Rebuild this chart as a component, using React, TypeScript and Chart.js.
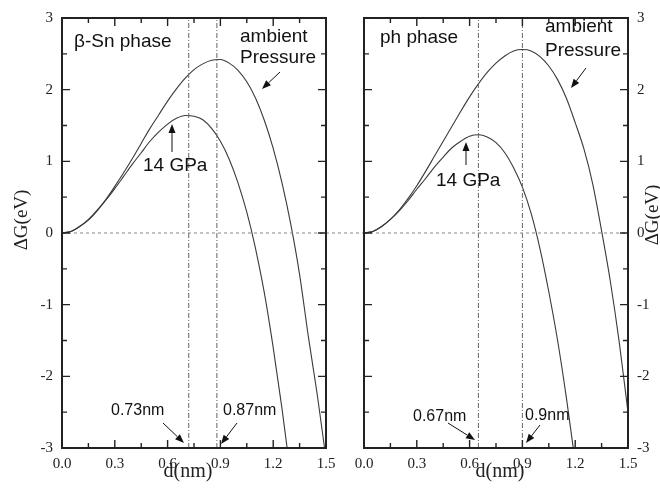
import React, { useEffect, useRef } from "react";
import { Chart, registerables } from "chart.js";
Chart.register(...registerables);

// ---------- data ----------
const dValues = [0, 0.05, 0.1, 0.15, 0.2, 0.25, 0.3, 0.35, 0.4, 0.45, 0.5, 0.55, 0.6, 0.65, 0.7, 0.75, 0.8, 0.85, 0.9, 0.95, 1.0, 1.05, 1.1, 1.15, 1.2, 1.25, 1.3, 1.35, 1.4, 1.45, 1.5];

const betaSnAmbient = [0, 0.02, 0.09, 0.19, 0.32, 0.47, 0.65, 0.84, 1.04, 1.25, 1.46, 1.65, 1.84, 2.01, 2.16, 2.28, 2.36, 2.41, 2.42, 2.37, 2.27, 2.11, 1.88, 1.57, 1.18, 0.70, 0.12, -0.58, -1.45, -2.25, -3.15];
const betaSn14GPa = [0, 0.02, 0.09, 0.18, 0.31, 0.46, 0.62, 0.79, 0.96, 1.12, 1.28, 1.41, 1.52, 1.60, 1.64, 1.63, 1.58, 1.46, 1.28, 1.03, 0.70, 0.29, -0.22, -0.84, -1.60, -2.45, -3.40];
const phAmbient = [0, 0.02, 0.09, 0.19, 0.32, 0.48, 0.66, 0.86, 1.07, 1.28, 1.49, 1.70, 1.90, 2.08, 2.24, 2.37, 2.47, 2.54, 2.56, 2.54, 2.46, 2.33, 2.14, 1.88, 1.54, 1.17, 0.68, 0.03, -0.68, -1.52, -2.50];
const ph14GPa = [0, 0.02, 0.09, 0.19, 0.31, 0.45, 0.61, 0.76, 0.92, 1.06, 1.19, 1.28, 1.35, 1.37, 1.34, 1.26, 1.12, 0.91, 0.64, 0.27, -0.22, -0.82, -1.50, -2.30, -3.20];

const betaSnCriticalD = [0.72, 0.88];
const phCriticalD = [0.65, 0.9];
const zeroLevel = 0;

const xTickValues = [0, 0.3, 0.6, 0.9, 1.2, 1.5];
const yTickValues = [-3, -2, -1, 0, 1, 2, 3];

const xTitle = "d(nm)";
const yTitle = "ΔG(eV)";

const betaSnTexts = [
  { text: "β-Sn phase", x: 74, y: 47, size: 19 },
  { text: "ambient", x: 240, y: 42, size: 19 },
  { text: "Pressure", x: 240, y: 63, size: 19 },
  { text: "14 GPa", x: 143, y: 171, size: 19 },
  { text: "0.73nm", x: 111, y: 415, size: 16 },
  { text: "0.87nm", x: 223, y: 415, size: 16 },
];
const betaSnArrows = [
  [280, 72, 262, 89],
  [172, 152, 172, 124],
  [163, 423, 184, 443],
  [237, 423, 221, 444],
];
const phTexts = [
  { text: "ph phase", x: 380, y: 43, size: 19 },
  { text: "ambient", x: 545, y: 32, size: 19 },
  { text: "Pressure", x: 545, y: 56, size: 19 },
  { text: "14 GPa", x: 436, y: 186, size: 19 },
  { text: "0.67nm", x: 413, y: 421, size: 16 },
  { text: "0.9nm", x: 525, y: 420, size: 16 },
];
const phArrows = [
  [586, 68, 571, 88],
  [466, 165, 466, 142],
  [448, 423, 475, 440],
  [540, 425, 526, 443],
];

// ---------- style / layout ----------
const SERIF = '"Liberation Serif", "Times New Roman", serif';
const SANS = '"Liberation Sans", Arial, sans-serif';
const INK = "#222";
const CURVE = "#3a3a3a";

type Panel = {
  side: "left" | "right";
  curves: number[][];
  critical: number[];
  texts: { text: string; x: number; y: number; size: number }[];
  arrows: number[][];
  padLeft: number;
  padRight: number;
  yWidth: number;
  xTitleX: number;
  yTitleX: number;
  yTitleY: number;
  gapTo?: number;
};

const leftPanel: Panel = {
  side: "left",
  curves: [betaSnAmbient, betaSn14GPa],
  critical: betaSnCriticalD,
  texts: betaSnTexts,
  arrows: betaSnArrows,
  padLeft: 0,
  padRight: 334,
  yWidth: 62,
  xTitleX: 188,
  yTitleX: 22,
  yTitleY: 220,
  gapTo: 364,
};
const rightPanel: Panel = {
  side: "right",
  curves: [phAmbient, ph14GPa],
  critical: phCriticalD,
  texts: phTexts,
  arrows: phArrows,
  padLeft: 364,
  padRight: 0,
  yWidth: 32,
  xTitleX: 500,
  yTitleX: 653,
  yTitleY: 215,
};

function drawArrow(ctx: CanvasRenderingContext2D, x1: number, y1: number, x2: number, y2: number) {
  const ang = Math.atan2(y2 - y1, x2 - x1);
  const len = 9;
  const half = 3.5;
  const bx = x2 - len * Math.cos(ang);
  const by = y2 - len * Math.sin(ang);
  ctx.beginPath();
  ctx.moveTo(x1, y1);
  ctx.lineTo(bx, by);
  ctx.stroke();
  ctx.beginPath();
  ctx.moveTo(x2, y2);
  ctx.lineTo(bx + half * Math.sin(ang), by - half * Math.cos(ang));
  ctx.lineTo(bx - half * Math.sin(ang), by + half * Math.cos(ang));
  ctx.closePath();
  ctx.fill();
}

function mids(v: number[]) {
  const out: number[] = [];
  for (let i = 0; i < v.length - 1; i++) out.push((v[i] + v[i + 1]) / 2);
  return out;
}

function framePlugin(p: Panel) {
  return {
    id: "frame_" + p.side,
    afterDatasetsDraw(chart: any) {
      const { ctx, chartArea: a, scales } = chart;
      const xs = scales.x;
      const ys = scales.y;
      ctx.save();
      // gap segment of the zero line
      if (p.gapTo) {
        const y0 = ys.getPixelForValue(zeroLevel);
        ctx.strokeStyle = "#888";
        ctx.lineWidth = 1;
        ctx.setLineDash([3, 3]);
        ctx.beginPath();
        ctx.moveTo(a.right, y0);
        ctx.lineTo(p.gapTo, y0);
        ctx.stroke();
        ctx.setLineDash([]);
      }
      // frame
      ctx.strokeStyle = INK;
      ctx.lineWidth = 2;
      ctx.strokeRect(a.left, a.top, a.right - a.left, a.bottom - a.top);
      // inward ticks
      ctx.lineWidth = 1.4;
      const xMaj = xTickValues.map((v) => xs.getPixelForValue(v));
      const xMin = mids(xTickValues).map((v) => xs.getPixelForValue(v));
      const yMaj = yTickValues.map((v) => ys.getPixelForValue(v));
      const yMin = mids(yTickValues).map((v) => ys.getPixelForValue(v));
      const tick = (arr: number[], len: number) => {
        ctx.beginPath();
        arr.forEach((px) => {
          ctx.moveTo(px, a.bottom);
          ctx.lineTo(px, a.bottom - len);
          ctx.moveTo(px, a.top);
          ctx.lineTo(px, a.top + len);
        });
        ctx.stroke();
      };
      const tickY = (arr: number[], len: number) => {
        ctx.beginPath();
        arr.forEach((py) => {
          ctx.moveTo(a.left, py);
          ctx.lineTo(a.left + len, py);
          ctx.moveTo(a.right, py);
          ctx.lineTo(a.right - len, py);
        });
        ctx.stroke();
      };
      tick(xMaj, 8);
      tick(xMin, 5);
      tickY(yMaj, 8);
      tickY(yMin, 5);
      // axis titles
      ctx.fillStyle = INK;
      ctx.font = `20px ${SERIF}`;
      ctx.textAlign = "center";
      ctx.textBaseline = "alphabetic";
      ctx.fillText(xTitle, p.xTitleX, 477);
      ctx.save();
      ctx.translate(p.yTitleX, p.yTitleY);
      ctx.rotate(-Math.PI / 2);
      ctx.font = `19px ${SERIF}`;
      ctx.textBaseline = "middle";
      ctx.fillText(yTitle, 0, 0);
      ctx.restore();
      // annotations
      ctx.fillStyle = "#111";
      ctx.strokeStyle = "#111";
      ctx.textAlign = "left";
      ctx.textBaseline = "alphabetic";
      p.texts.forEach((t) => {
        ctx.font = `${t.size}px ${SANS}`;
        ctx.fillText(t.text, t.x, t.y);
      });
      ctx.lineWidth = 1;
      p.arrows.forEach((ar) => drawArrow(ctx, ar[0], ar[1], ar[2], ar[3]));
      ctx.restore();
    },
  };
}

function buildChart(canvas: HTMLCanvasElement, p: Panel) {
  const zeroSet = {
    data: [
      { x: xTickValues[0], y: zeroLevel },
      { x: xTickValues[xTickValues.length - 1], y: zeroLevel },
    ],
    borderColor: "#888",
    borderWidth: 1,
    borderDash: [3, 3],
    pointRadius: 0,
    fill: false,
  };
  const critSets = p.critical.map((d) => ({
    data: [
      { x: d, y: yTickValues[0] },
      { x: d, y: yTickValues[yTickValues.length - 1] },
    ],
    borderColor: "#666",
    borderWidth: 1,
    borderDash: [5, 2, 1, 2],
    pointRadius: 0,
    fill: false,
  }));
  const curveSets = p.curves.map((g) => ({
    data: g.map((v, i) => ({ x: dValues[i], y: v })),
    borderColor: CURVE,
    borderWidth: 1.1,
    pointRadius: 0,
    fill: false,
    cubicInterpolationMode: "monotone",
  }));
  return new Chart(canvas, {
    type: "line",
    data: { datasets: [zeroSet, ...critSets, ...curveSets] as any },
    options: {
      animation: false,
      responsive: false,
      events: [],
      layout: { padding: { left: p.padLeft, right: p.padRight, top: 15, bottom: 0 } },
      plugins: { legend: { display: false }, tooltip: { enabled: false } },
      scales: {
        x: {
          type: "linear",
          min: 0,
          max: 1.5,
          position: "bottom",
          grid: { display: false, drawTicks: false },
          border: { display: false },
          afterBuildTicks: (s: any) => {
            s.ticks = xTickValues.map((v) => ({ value: v }));
          },
          afterFit: (s: any) => {
            s.height = 44;
          },
          ticks: {
            padding: 7,
            autoSkip: false,
            maxRotation: 0,
            color: INK,
            font: { family: SERIF, size: 15 },
            callback: (v: any) => Number(v).toFixed(1),
          },
        },
        y: {
          type: "linear",
          min: -3,
          max: 3,
          position: p.side,
          grid: { display: false, drawTicks: false },
          border: { display: false },
          afterBuildTicks: (s: any) => {
            s.ticks = yTickValues.map((v) => ({ value: v }));
          },
          afterFit: (s: any) => {
            s.width = p.yWidth;
          },
          ticks: {
            padding: 9,
            color: INK,
            font: { family: SERIF, size: 15 },
            callback: (v: any) => String(v),
          },
        },
      },
    } as any,
    plugins: [framePlugin(p)],
  });
}

export default function App() {
  const leftRef = useRef<HTMLCanvasElement>(null);
  const rightRef = useRef<HTMLCanvasElement>(null);
  useEffect(() => {
    const c1 = buildChart(leftRef.current!, leftPanel);
    const c2 = buildChart(rightRef.current!, rightPanel);
    return () => {
      c1.destroy();
      c2.destroy();
    };
  }, []);
  return (
    <div style={{ position: "absolute", left: 0, top: 0, width: 660, height: 492, background: "#fff" }}>
      <canvas ref={leftRef} width={660} height={492} style={{ position: "absolute", left: 0, top: 0 }} />
      <canvas ref={rightRef} width={660} height={492} style={{ position: "absolute", left: 0, top: 0 }} />
    </div>
  );
}
